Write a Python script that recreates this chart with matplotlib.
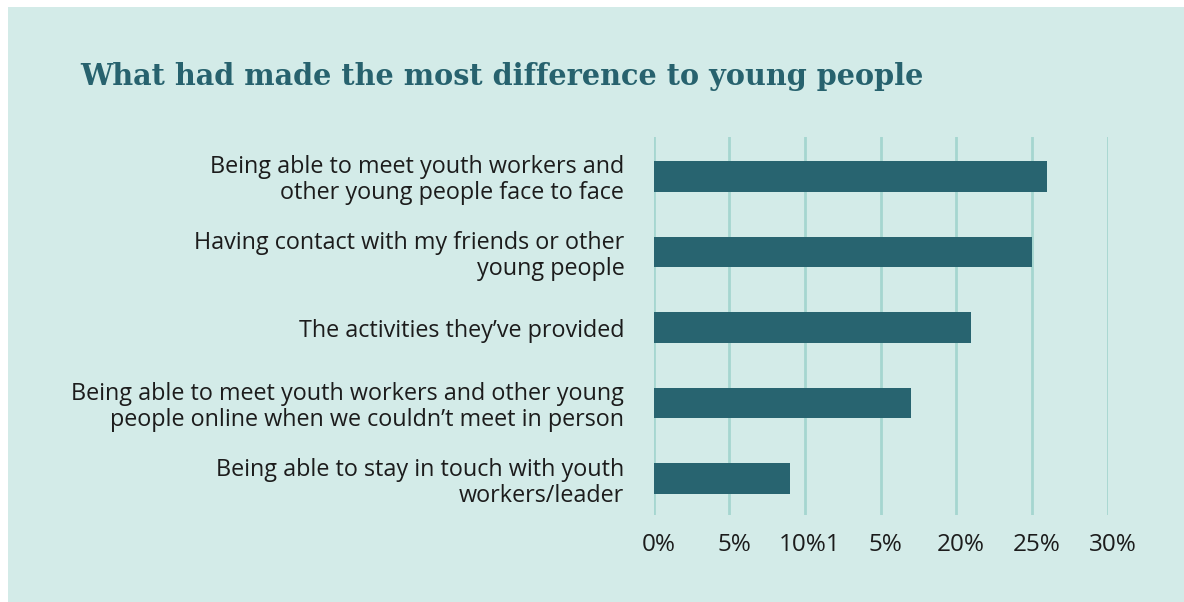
import matplotlib
matplotlib.use("Agg")
import matplotlib.pyplot as plt
from matplotlib.patches import Rectangle
from matplotlib.transforms import ScaledTranslation

categories = [
    "Being able to meet youth workers and\nother young people face to face",
    "Having contact with my friends or other\nyoung people",
    "The activities they\u2019ve provided",
    "Being able to meet youth workers and other young\npeople online when we couldn\u2019t meet in person",
    "Being able to stay in touch with youth\nworkers/leader",
]
values = [26, 25, 21, 17, 9]
tick_values = [0, 5, 10, 15, 20, 25, 30]
tick_labels = ["0%", "5%", "10%1", "5%", "20%", "25%", "30%"]
title = "What had made the most difference to young people"

BG = "#d3ebe8"
BAR = "#286470"
GRID = "#a5d6d0"
TITLE_C = "#27626e"
TEXT = "#1c1c1c"

W, H = 1184, 602
fig = plt.figure(figsize=(W / 100, H / 100), dpi=100, facecolor="white")
fig.patches.append(Rectangle((8 / W, 0), 1 - 8 / W, 1 - 7 / H, transform=fig.transFigure,
                             facecolor=BG, edgecolor="none", zorder=-10))

left, right = 653.5, 1107.6
top, bottom = 137, 515
ax = fig.add_axes([left / W, 1 - bottom / H, (right - left) / W, (bottom - top) / H])
ax.set_facecolor("none")

ypos = list(range(len(categories)))
ax.barh(ypos, values, height=0.406, color=BAR, zorder=3)
ax.set_xlim(0, 30)
ax.set_ylim(4.48, -0.52)

ax.set_xticks(tick_values)
ax.set_xticklabels(tick_labels)
ax.set_yticks(ypos)
ax.set_yticklabels(categories)

for s in ax.spines.values():
    s.set_visible(False)
ax.grid(axis="x", color=GRID, linewidth=2, zorder=1)
ax.grid(axis="y", visible=False)
ax.set_axisbelow(True)
ax.tick_params(axis="both", length=0)
ax.tick_params(axis="y", pad=21)
ax.tick_params(axis="x", pad=13)

font = "Open Sans"
for lab in ax.get_yticklabels():
    lab.set_fontfamily(font)
    lab.set_fontsize(16.8)
    lab.set_color(TEXT)
    lab.set_linespacing(1.12)
    lab.set_ha("right")
for lab in ax.get_xticklabels():
    lab.set_fontfamily(font)
    lab.set_fontsize(17.5)
    lab.set_color(TEXT)
    lab.set_transform(lab.get_transform() + ScaledTranslation(5 / 100, 0, fig.dpi_scale_trans))

fig.text(80 / W, 1 - 85 / H, title, fontfamily="DejaVu Serif", fontweight="bold",
         fontsize=20.7, color=TITLE_C, ha="left", va="baseline")

fig.savefig("out.png", dpi=100, facecolor="white")
